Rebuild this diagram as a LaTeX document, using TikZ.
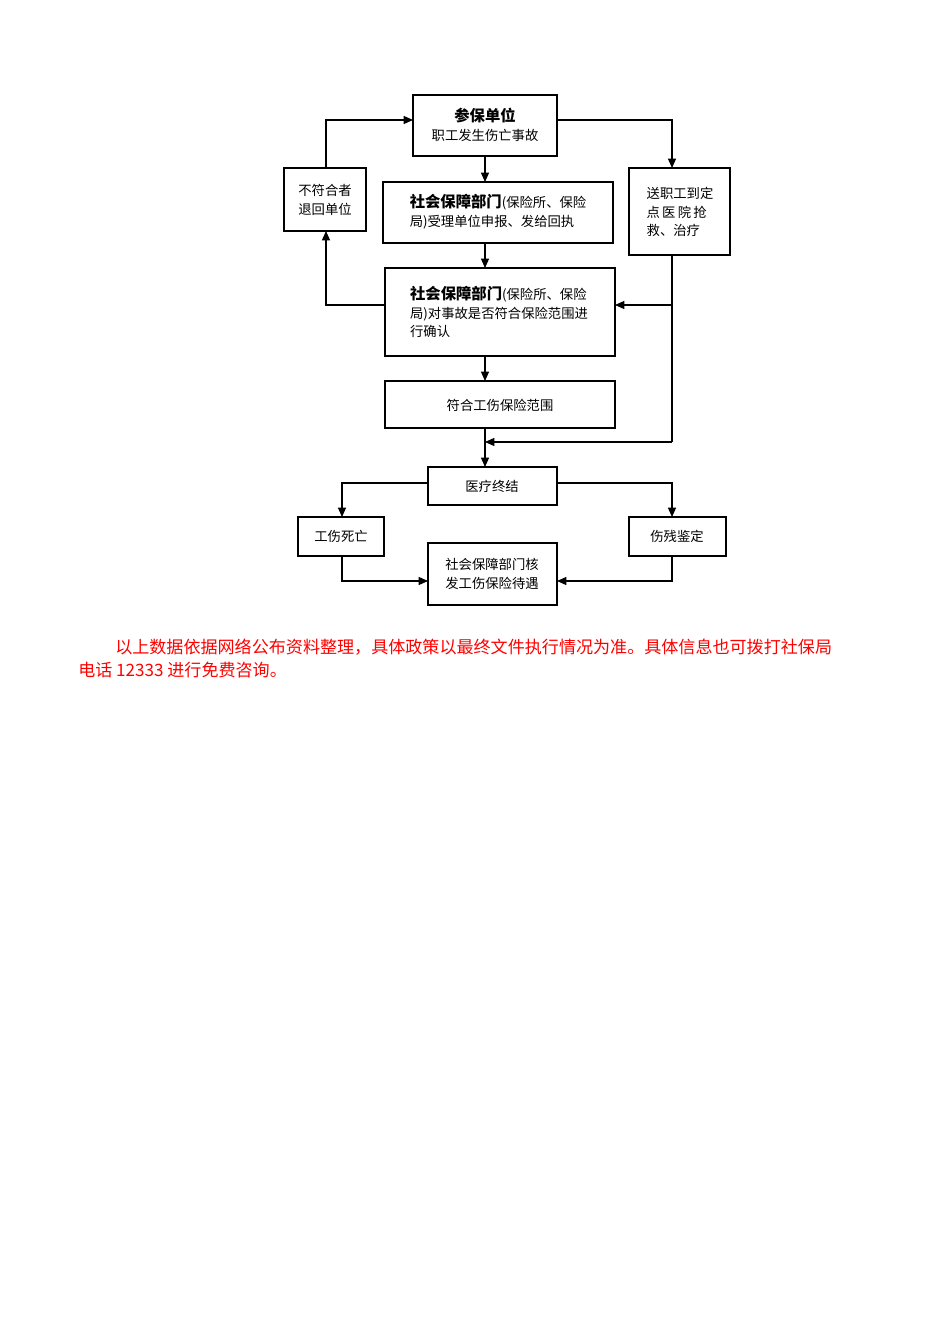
\documentclass[tikz,border=0pt]{standalone}
\usepackage{fontspec}
\setmainfont{Noto Sans CJK SC}
\usetikzlibrary{arrows.meta}
\begin{document}
\begin{tikzpicture}[x=0.75pt,y=-0.75pt,
  bx/.style={draw,line width=0.9pt,inner sep=0pt},
  ar/.style={-{Triangle[length=7pt,width=6pt]},line width=0.9pt},
  ln/.style={line width=0.9pt},
  t/.style={font=\fontsize{10}{14}\selectfont,align=left},
  every node/.style={text=black}]
\useasboundingbox (0,0) rectangle (950,1344);
\fill[white] (0,0) rectangle (950,1344);
\draw[bx] (413,95) rectangle (557,156); \coordinate (a) at (485,125);
\node[t,align=center] (ta) at (485,125) {\textbf{\fontsize{11.5}{14}\selectfont 参保单位}\\职工发生伤亡事故};
\draw[bx] (284,168) rectangle (366,231);
\node[t] (tb) at (325,200) {不符合者\\退回单位};
\draw[bx] (629,168) rectangle (730,255);
\node[t] (tc) at (680,212) {送职工到定\\点\,医\,院\,抢\\救、治疗};
\draw[bx] (383,182) rectangle (613,243);
\node[t] (td) at (498,212) {\textbf{\fontsize{11.5}{14}\selectfont 社会保障部门}(保险所、保险\\局)受理单位申报、发给回执};
\draw[bx] (385,268) rectangle (615,356);
\node[t] (te) at (499,312) {\textbf{\fontsize{11.5}{14}\selectfont 社会保障部门}(保险所、保险\\局)对事故是否符合保险范围进\\行确认};
\draw[bx] (385,381) rectangle (615,428);
\node[t] (tf) at (500,405) {符合工伤保险范围};
\draw[bx] (428,467) rectangle (557,505);
\node[t] (tg) at (492,486) {医疗终结};
\draw[bx] (298,517) rectangle (384,556);
\node[t] (th) at (341,536) {工伤死亡};
\draw[bx] (629,517) rectangle (726,556);
\node[t] (ti) at (677,536) {伤残鉴定};
\draw[bx] (428,543) rectangle (557,605);
\node[t] (tj) at (492,574) {社会保障部门核\\发工伤保险待遇};
\draw[ar] (485,156) -- (485,182);
\draw[ar] (557,120) -- (672,120) -- (672,168);
\draw[ar] (326,168) -- (326,120) -- (413,120);
\draw[ar] (485,243) -- (485,268);
\draw[ar] (385,305) -- (326,305) -- (326,231);
\draw[ln] (672,255) -- (672,442);
\draw[ar] (672,305) -- (615,305);
\draw[ar] (672,442) -- (485,442);
\draw[ar] (485,356) -- (485,381);
\draw[ar] (485,428) -- (485,467);
\draw[ar] (428,483) -- (342,483) -- (342,517);
\draw[ar] (557,483) -- (672,483) -- (672,517);
\draw[ar] (342,556) -- (342,581) -- (428,581);
\draw[ar] (672,556) -- (672,581) -- (557,581);
\node[anchor=west,text=red,font=\fontsize{12.8}{17}\selectfont,inner sep=0pt] (r1) at (115,647) {以上数据依据网络公布资料整理，具体政策以最终文件执行情况为准。具体信息也可拨打社保局};
\node[anchor=west,text=red,font=\fontsize{12.8}{17}\selectfont,inner sep=0pt] (r2) at (78,670) {电话 12333 进行免费咨询。};
\end{tikzpicture}
\end{document}
